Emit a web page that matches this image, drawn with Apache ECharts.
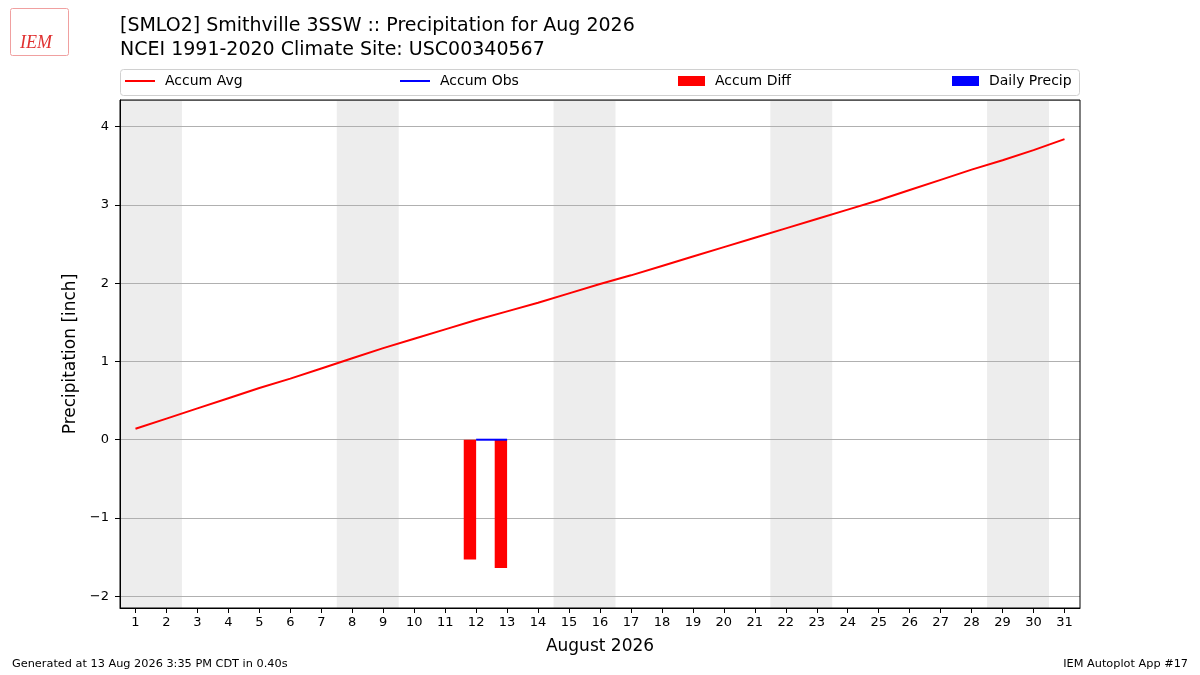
<!DOCTYPE html>
<html>
<head>
<meta charset="utf-8">
<title>Precipitation for Aug 2026</title>
<script src="https://cdn.jsdelivr.net/npm/echarts@6/dist/echarts.min.js"></script>
<style>
html,body{margin:0;padding:0;background:#fff;}
#myChart{width:1200px;height:675px;}
</style>
</head>
<body>
<div id="myChart"></div>
<script>
// day of month
let days = [];
for (let d = 1; d <= 31; d++) days.push(String(d));

// accumulated climate average (inch)
let accumAvg = [0.14, 0.27, 0.40, 0.53, 0.66, 0.78, 0.91, 1.04, 1.17, 1.29,
	1.41, 1.53, 1.64, 1.75, 1.87, 1.99, 2.10, 2.22, 2.34, 2.46,
	2.58, 2.70, 2.82, 2.94, 3.06, 3.19, 3.32, 3.45, 3.57, 3.70, 3.84];
// observed data only exists for the 12th and 13th
let obsDays = ['12', '13'];
let obsAccum = [0.00, 0.00];
let obsDiff = [-1.53, -1.64];
let obsDaily = [0.00, 0.00];
// weekends (sat, sun)
let weekendStarts = [1, 8, 15, 22, 29];

let yTicks = [-2, -1, 0, 1, 2, 3, 4];

function byDay(vals) {
	let out = days.map(function() { return null; });
	obsDays.forEach(function(d, i) { out[days.indexOf(d)] = vals[i]; });
	return out;
}

let font = 'DejaVu Sans';
let myChart = echarts.init(document.getElementById('myChart'));

let shade = weekendStarts.map(function(s) {
	return [{ xAxis: s - 0.5 }, { xAxis: s + 1.5 }];
});

let legendItem = function(name, left, w, h) {
	return {
		data: [name], left: left, top: 74, itemWidth: w, itemHeight: h, itemGap: 0,
		icon: 'rect',
		textStyle: { fontFamily: font, fontSize: 14, color: '#000', padding: [0, 0, 0, 5] },
		selectedMode: false, padding: 0
	};
};

let option = {
	animation: false,
	backgroundColor: '#fff',
	textStyle: { fontFamily: font },
	title: {
		text: '[SMLO2] Smithville 3SSW :: Precipitation for Aug 2026\nNCEI 1991-2020 Climate Site: USC00340567',
		left: 115, top: 9,
		textStyle: { fontFamily: font, fontSize: 19, fontWeight: 'normal', color: '#000', lineHeight: 24 }
	},
	legend: [
		legendItem('Accum Avg', 125, 30, 2),
		legendItem('Accum Obs', 400, 30, 2),
		legendItem('Accum Diff', 678, 27, 10),
		legendItem('Daily Precip', 952, 27, 10)
	],
	grid: {
		left: 120, right: 120, top: 100, bottom: 67,
		show: true, borderColor: '#000', borderWidth: 1, backgroundColor: 'transparent', z: 10
	},
	xAxis: [{
		type: 'category',
		data: days,
		boundaryGap: true,
		name: 'August 2026',
		nameLocation: 'middle',
		nameGap: 30,
		nameTextStyle: { fontFamily: font, fontSize: 17, color: '#000' },
		axisLine: { show: true, onZero: false, lineStyle: { color: '#000' } },
		axisTick: { show: true, alignWithLabel: true, interval: 0, length: 5, lineStyle: { color: '#000' } },
		axisLabel: { interval: 0, fontFamily: font, fontSize: 13, color: '#000', margin: 8 },
		splitLine: { show: false }
	}, {
		type: 'value',
		min: 0.5, max: 31.5,
		show: false
	}],
	yAxis: {
		type: 'value',
		min: -2.15, max: 4.34,
		name: 'Precipitation [inch]',
		nameLocation: 'middle',
		nameGap: 37,
		nameTextStyle: { fontFamily: font, fontSize: 17, color: '#000' },
		axisLine: { show: true, onZero: false, lineStyle: { color: '#000' } },
		axisTick: { show: true, length: 5, lineStyle: { color: '#000' } },
		axisLabel: {
			fontFamily: font, fontSize: 13, color: '#000', margin: 11,
			showMinLabel: false, showMaxLabel: false,
			formatter: function(v) {
				if (yTicks.indexOf(v) < 0) return '';
				return String(v).replace('-', '\u2212');
			}
		},
		splitLine: { show: true, lineStyle: { color: '#b0b0b0', width: 1 } }
	},
	series: [{
		// weekend shading
		name: 'weekend',
		type: 'line',
		xAxisIndex: 1,
		data: [],
		z: -2,
		silent: true,
		markArea: {
			silent: true,
			z: -2,
			itemStyle: { color: '#ededed' },
			data: shade
		}
	}, {
		name: 'Accum Avg',
		type: 'line',
		data: accumAvg,
		symbol: 'none',
		lineStyle: { color: '#ff0000', width: 2 },
		itemStyle: { color: '#ff0000' },
		z: 3
	}, {
		name: 'Accum Obs',
		type: 'line',
		data: byDay(obsAccum),
		symbol: 'none',
		lineStyle: { color: '#0000ff', width: 2 },
		itemStyle: { color: '#0000ff' },
		z: 4
	}, {
		name: 'Accum Diff',
		type: 'bar',
		data: byDay(obsDiff),
		barWidth: '40%',
		barGap: '0%',
		itemStyle: { color: '#ff0000' }
	}, {
		name: 'Daily Precip',
		type: 'bar',
		data: byDay(obsDaily),
		barWidth: '40%',
		barGap: '0%',
		itemStyle: { color: '#0000ff' }
	}],
	graphic: [{
		// legend frame
		type: 'rect',
		shape: { x: 120.5, y: 69.5, width: 959, height: 26, r: 3 },
		style: { fill: 'none', stroke: '#d0d0d0', lineWidth: 1 },
		silent: true, z: -10
	}, {
		// small logo
		type: 'text',
		left: 20, top: 34,
		style: { text: 'IEM', fontFamily: 'Liberation Serif', fontStyle: 'italic', fontSize: 18, fill: '#e03030' }
	}, {
		type: 'rect',
		shape: { x: 10.5, y: 8.5, width: 58, height: 47, r: 2 },
		style: { fill: 'none', stroke: '#f0a0a0', lineWidth: 1 }
	}, {
		type: 'text',
		left: 12, top: 659,
		style: { text: 'Generated at 13 Aug 2026 3:35 PM CDT in 0.40s', fontFamily: font, fontSize: 11.3, fill: '#000' }
	}, {
		type: 'text',
		right: 12, top: 659,
		style: { text: 'IEM Autoplot App #17', fontFamily: font, fontSize: 11.3, fill: '#000' }
	}]
};

// 使用配置项显示图表
myChart.setOption(option);
</script>
</body>
</html>
